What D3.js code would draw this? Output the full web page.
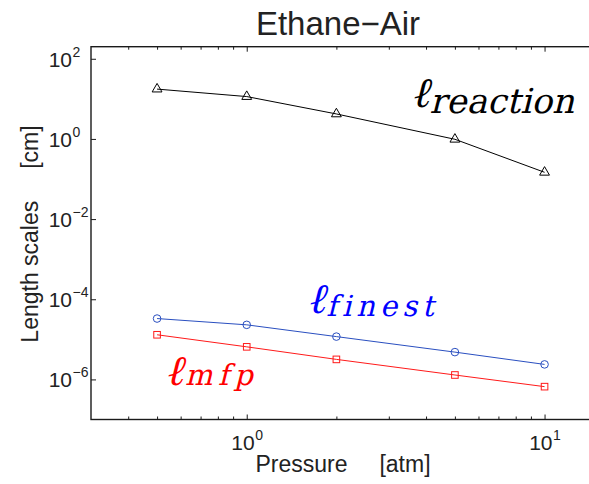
<!DOCTYPE html>
<html>
<head>
<meta charset="utf-8">
<script src="https://cdn.jsdelivr.net/npm/d3@7"></script>
<style>
  html, body { margin: 0; padding: 0; background: #fff; }
  svg { display: block; }
</style>
</head>
<body>
<svg id="chart" width="589" height="484"></svg>
<script>
// ---------- data ----------
const pressure = [0.5, 1, 2, 5, 10];               // atm
const lReaction = [17.5, 11.4, 4.2, 0.98, 0.147];   // cm
const lFinest = [3.3e-5, 2.3e-5, 1.17e-5, 4.8e-6, 2.37e-6];
const lMfp = [1.3e-5, 6.5e-6, 3.16e-6, 1.29e-6, 6.6e-7];

const xMajorTicks = [1, 10];
const xMajorExp = ["0", "1"];
const xMinorTicks = [0.4, 0.5, 0.6, 0.7, 0.8, 0.9, 2, 3, 4, 5, 6, 7, 8, 9];
const yMajorTicks = [1e-6, 1e-4, 1e-2, 1, 1e2];
const yMajorExp = ["\u22126", "\u22124", "\u22122", "0", "2"];

const titleText = "Ethane\u2212Air";
const xLabelText = "Pressure\u00a0\u00a0\u00a0\u00a0\u00a0[atm]";
const yLabelText = "Length scales\u00a0\u00a0\u00a0\u00a0\u00a0[cm]";

// ---------- layout ----------
const svg = d3.select("#chart");
const L = 91, R = 597, T = 46.7, B = 419.5;
const x = d3.scaleLog().domain([0.3, 15]).range([L, R]);
const y = d3.scaleLog().domain([1e-7, 200]).range([B, T]);

const axisColor = "#1a1a1a";
const textColor = "#222";
const sans = "'Liberation Sans', Arial, Helvetica, sans-serif";
const serif = "DejaVu Serif";

// frame
svg.append("rect").attr("x", L).attr("y", T).attr("width", R - L).attr("height", B - T)
  .attr("fill", "none").attr("stroke", axisColor).attr("stroke-width", 1.4);

// ticks via d3 axes (no domain, no labels)
function tickAxis(axisGen, tx, ty) {
  const g = svg.append("g").attr("transform", `translate(${tx},${ty})`).call(axisGen);
  g.select(".domain").remove();
  g.selectAll("text").remove();
  g.selectAll("line").attr("stroke", axisColor).attr("stroke-width", 1);
  return g;
}
tickAxis(d3.axisBottom(x).tickValues(xMajorTicks).tickSize(-5), 0, B);
tickAxis(d3.axisBottom(x).tickValues(xMinorTicks).tickSize(-3), 0, B);
tickAxis(d3.axisTop(x).tickValues(xMajorTicks).tickSize(-5), 0, T);
tickAxis(d3.axisTop(x).tickValues(xMinorTicks).tickSize(-3), 0, T);
tickAxis(d3.axisLeft(y).tickValues(yMajorTicks).tickSize(-5), L, 0);
tickAxis(d3.axisRight(y).tickValues(yMajorTicks).tickSize(-5), R, 0);

// x tick labels
xMajorTicks.forEach((v, i) => {
  const px = x(v);
  svg.append("text").attr("x", px + 8).attr("y", 450).attr("text-anchor", "end")
    .attr("font-family", sans).attr("font-size", 21).attr("fill", textColor).text("10");
  svg.append("text").attr("x", px + 8.5).attr("y", 440).attr("text-anchor", "start")
    .attr("font-family", sans).attr("font-size", 14).attr("fill", textColor).text(xMajorExp[i]);
});
// y tick labels
yMajorTicks.forEach((v, i) => {
  const py = y(v);
  svg.append("text").attr("x", 72).attr("y", py + 8).attr("text-anchor", "end")
    .attr("font-family", sans).attr("font-size", 21).attr("fill", textColor).text("10");
  svg.append("text").attr("x", 72.5).attr("y", py - 2).attr("text-anchor", "start")
    .attr("font-family", sans).attr("font-size", 14).attr("fill", textColor).text(yMajorExp[i]);
});

// title & axis labels
svg.append("text").attr("x", 338).attr("y", 35).attr("text-anchor", "middle")
  .attr("font-family", sans).attr("font-size", 33).attr("fill", textColor).text(titleText);
svg.append("text").attr("x", 343).attr("y", 472).attr("text-anchor", "middle")
  .attr("font-family", sans).attr("font-size", 23).attr("fill", textColor).text(xLabelText);
svg.append("text").attr("transform", "translate(38,234) rotate(-90)").attr("text-anchor", "middle")
  .attr("font-family", sans).attr("font-size", 23).attr("fill", textColor).text(yLabelText);

// ---------- series ----------
const series = [
  { vals: lReaction, color: "#000", marker: "tri" },
  { vals: lFinest, color: "#2a4fc0", marker: "circle" },
  { vals: lMfp, color: "#ff1a1a", marker: "square" }
];
const line = d3.line().x(d => x(d[0])).y(d => y(d[1]));
series.forEach(s => {
  const pts = pressure.map((p, i) => [p, s.vals[i]]);
  svg.append("path").attr("d", line(pts)).attr("fill", "none")
    .attr("stroke", s.color).attr("stroke-width", 1);
  const g = svg.append("g");
  pts.forEach(d => {
    const cx = x(d[0]), cy = y(d[1]);
    if (s.marker === "circle") {
      g.append("circle").attr("cx", cx).attr("cy", cy).attr("r", 3.8)
        .attr("fill", "none").attr("stroke", s.color).attr("stroke-width", 1);
    } else if (s.marker === "square") {
      g.append("rect").attr("x", cx - 3.3).attr("y", cy - 3.3).attr("width", 6.6).attr("height", 6.6)
        .attr("fill", "none").attr("stroke", s.color).attr("stroke-width", 1);
    } else {
      g.append("path").attr("transform", `translate(${cx},${cy})`)
        .attr("d", d3.symbol().type(d3.symbolTriangle).size(42)())
        .attr("fill", "none").attr("stroke", s.color).attr("stroke-width", 1);
    }
  });
});

// ---------- annotations (oblique serif, like TeX math italic) ----------
function ell(xp, yb, sub, subDy, subSize, spacing, color) {
  const t = svg.append("text").attr("transform", `translate(${xp},${yb}) skewX(-14)`)
    .attr("fill", color).attr("font-family", serif).attr("font-weight", 300);
  t.append("tspan").attr("font-size", 42).text("\u2113");
  t.append("tspan").attr("dx", 1).attr("dy", subDy)
    .attr("font-size", subSize).attr("letter-spacing", spacing).text(sub);
}
ell(410, 106.5, "reaction", 6, 34.5, 0, "#000");
ell(306, 313, "finest", 3, 29, 5, "#0000ff");
ell(164, 385, "mfp", 0, 29, 5.5, "#ff0000");
</script>
</body>
</html>
